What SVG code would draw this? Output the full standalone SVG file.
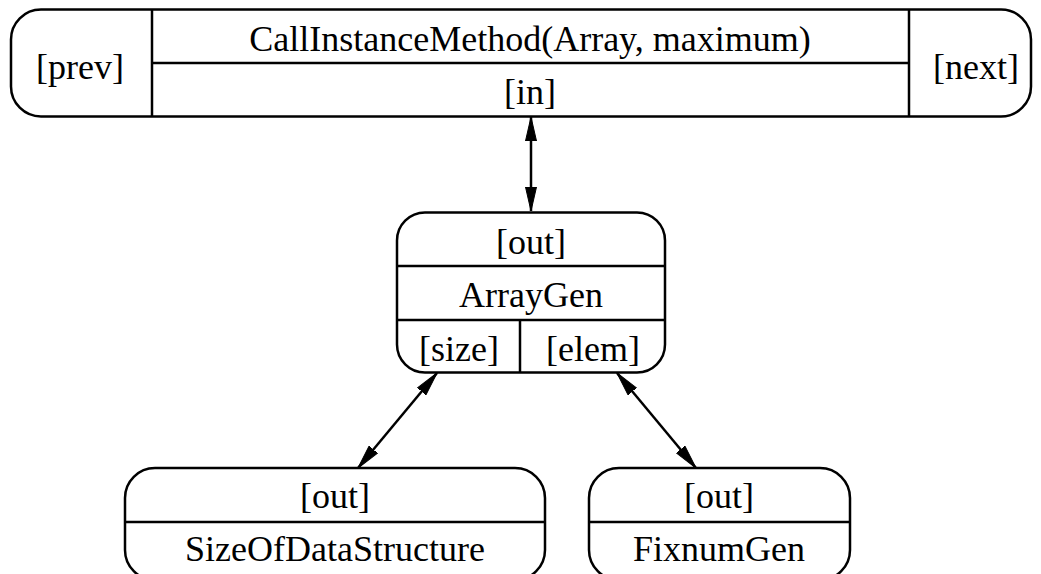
<svg xmlns="http://www.w3.org/2000/svg" width="1041" height="574" viewBox="0 0 1041 574">
<defs>
<style>
.n{fill:#fff;stroke:#000;stroke-width:2.5}
.d{stroke:#000;stroke-width:2.5;fill:none}
text{font-family:"Liberation Serif","Times New Roman",serif;font-size:36px;fill:#000;text-anchor:middle}
.e{stroke:#000;stroke-width:2.5;fill:none;marker-start:url(#a);marker-end:url(#a)}
</style>
<marker id="a" viewBox="0 0 24 12" refX="24" refY="6" markerWidth="24" markerHeight="12" markerUnits="userSpaceOnUse" orient="auto-start-reverse">
<path d="M0,0.5 L24,6 L0,11.5 Z" fill="#000" stroke="#000" stroke-width="1"/>
</marker>
</defs>
<rect width="1041" height="574" fill="#fff"/>
<g id="call">
<rect class="n" x="11" y="9.5" width="1020" height="107" rx="30" ry="30"/>
<line class="d" x1="152" y1="9.5" x2="152" y2="116.5"/>
<line class="d" x1="909" y1="9.5" x2="909" y2="116.5"/>
<line class="d" x1="152" y1="63" x2="909" y2="63"/>
<text x="80" y="79">[prev]</text>
<text x="530" y="51">CallInstanceMethod(Array, maximum)</text>
<text x="530" y="104">[in]</text>
<text x="976" y="79">[next]</text>
</g>
<g id="arraygen">
<rect class="n" x="397" y="212.5" width="268" height="160" rx="28" ry="28"/>
<line class="d" x1="397" y1="266" x2="665" y2="266"/>
<line class="d" x1="397" y1="320" x2="665" y2="320"/>
<line class="d" x1="520" y1="320" x2="520" y2="372.5"/>
<text x="531" y="254">[out]</text>
<text x="531" y="307">ArrayGen</text>
<text x="459" y="361">[size]</text>
<text x="593" y="361">[elem]</text>
</g>
<g id="sizeof">
<rect class="n" x="125" y="468" width="420" height="112" rx="30" ry="30"/>
<line class="d" x1="125" y1="522" x2="545" y2="522"/>
<text x="335" y="508">[out]</text>
<text x="335" y="561">SizeOfDataStructure</text>
</g>
<g id="fixnum">
<rect class="n" x="589" y="468" width="261" height="112" rx="30" ry="30"/>
<line class="d" x1="589" y1="522" x2="850" y2="522"/>
<text x="719" y="508">[out]</text>
<text x="719" y="561">FixnumGen</text>
</g>
<g id="edges">
<line class="e" x1="531" y1="117" x2="531" y2="211"/>
<line class="e" x1="437" y1="373" x2="358" y2="468"/>
<line class="e" x1="617" y1="373" x2="696" y2="468"/>
</g>
</svg>
